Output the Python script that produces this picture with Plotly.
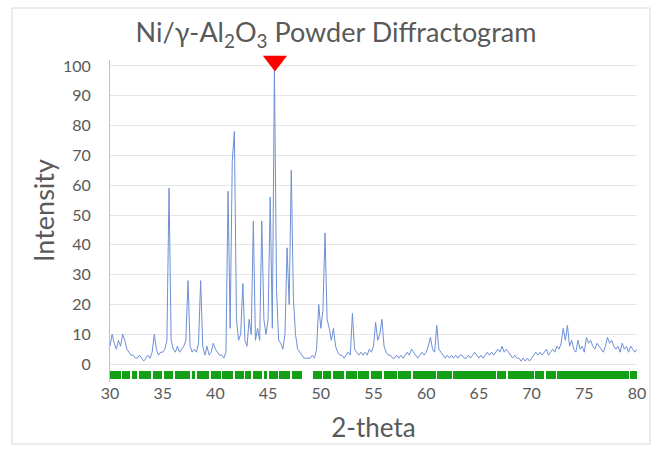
import plotly.graph_objects as go

# --- data ---
two_theta = [round(30 + 0.2 * i, 1) for i in range(251)]
intensity = [
    6, 10, 7, 5, 8,      # 30
    6, 10, 8, 5, 4,      # 31
    3, 3, 2, 2, 3,       # 32
    2, 1, 2, 3, 2,       # 33
    4, 10, 5, 3, 4,      # 34
    4, 5, 8, 59, 8,      # 35
    5, 4, 6, 4, 5,       # 36
    6, 8, 28, 6, 4,      # 37
    5, 4, 7, 28, 6,      # 38
    3, 6, 3, 4, 7,       # 39
    5, 4, 3, 3, 2,       # 40
    4, 58, 12, 68, 78,   # 41
    15, 8, 10, 27, 8,    # 42
    6, 15, 10, 48, 8,    # 43
    12, 8, 48, 15, 10,   # 44
    15, 56, 12, 100, 25, # 45
    8, 7, 5, 10, 39,     # 46
    20, 65, 22, 10, 5,   # 47
    4, 3, 2, 2, 2,       # 48
    2, 3, 2, 5, 20,      # 49
    12, 18, 44, 15, 12,  # 50
    8, 12, 6, 4, 3,      # 51
    3, 2, 3, 4, 3,       # 52
    17, 5, 4, 3, 4,      # 53
    3, 4, 3, 5, 4,       # 54
    6, 14, 8, 10, 15,    # 55
    6, 4, 3, 3, 2,       # 56
    2, 3, 2, 3, 2,       # 57
    3, 4, 3, 5, 4,       # 58
    3, 2, 3, 4, 3,       # 59
    4, 6, 9, 5, 4,       # 60
    13, 5, 4, 3, 2,      # 61
    3, 2, 3, 2, 3,       # 62
    2, 3, 3, 2, 2,       # 63
    3, 2, 3, 4, 3,       # 64
    2, 3, 2, 3, 4,       # 65
    3, 4, 3, 4, 5,       # 66
    4, 6, 4, 5, 4,       # 67
    3, 2, 3, 2, 2,       # 68
    1, 2, 1, 2, 1,       # 69
    2, 3, 4, 3, 4,       # 70
    3, 4, 5, 3, 4,       # 71
    5, 4, 6, 5, 7,       # 72
    12, 8, 13, 6, 8,     # 73
    5, 4, 8, 5, 6,       # 74
    4, 9, 7, 8, 6,       # 75
    5, 7, 6, 5, 4,       # 76
    6, 9, 7, 8, 6,       # 77
    5, 6, 4, 7, 5,       # 78
    6, 4, 6, 5, 4,       # 79
    5,                   # 80
]

# reference-pattern coverage (green band), start/end in 2-theta
ref_start = [30.0, 31.15, 32.05, 32.75, 34.1, 35.1, 36.15, 37.75, 38.3, 39.6, 40.65,
             41.85, 42.85, 43.55, 44.6, 45.1, 46.05, 47.25, 49.3, 50.25, 51.15, 52.35,
             53.55, 54.75, 55.95, 57.35, 58.75, 61.05, 62.55, 66.75, 67.75, 70.35,
             71.35, 72.45, 79.35]
ref_end = [31.0, 31.9, 32.6, 33.9, 34.9, 36.0, 37.6, 38.1, 39.4, 40.5, 41.7,
           42.7, 43.4, 44.4, 44.9, 45.9, 47.1, 48.2, 50.1, 51.0, 52.2, 53.4,
           54.6, 55.8, 57.2, 58.6, 60.9, 62.4, 66.6, 67.6, 70.2, 71.2,
           72.3, 79.2, 80.0]

peak_marker_x = [45.65]
peak_marker_y = [101.7]

y_ticks = list(range(0, 101, 10))
x_ticks = list(range(30, 81, 5))

gray = "#595959"
font_family = "Lato, 'Open Sans', sans-serif"

fig = go.Figure()

fig.add_trace(go.Bar(
    x=[(s + e) / 2 for s, e in zip(ref_start, ref_end)],
    y=[2.6] * len(ref_start),
    base=[-4.9] * len(ref_start),
    width=[e - s for s, e in zip(ref_start, ref_end)],
    marker=dict(color="#14A014", line=dict(width=0)),
    showlegend=False, hoverinfo="skip",
))

fig.add_trace(go.Scatter(
    x=two_theta, y=intensity, mode="lines",
    line=dict(color="#6E8FD6", width=1),
    showlegend=False,
))

fig.add_trace(go.Scatter(
    x=peak_marker_x, y=peak_marker_y, mode="markers",
    marker=dict(symbol="triangle-down", size=21, color="#FF0000", line=dict(width=0)),
    showlegend=False, cliponaxis=False,
))

L, R, T, B = 110, 20, 60, 67
W, H = 657, 449
pw, ph = W - L - R, H - T - B

def px_x(p):
    return (p - L) / pw

def px_y(p):
    return (H - B - p) / ph

fig.add_shape(type="rect", xref="paper", yref="paper",
              x0=px_x(12), x1=px_x(650), y0=px_y(444), y1=px_y(8),
              line=dict(color="#D9D9D9", width=1), layer="below")

fig.add_annotation(text="Intensity", xref="paper", yref="paper",
                   x=px_x(43), y=px_y(211), xanchor="center", yanchor="middle",
                   textangle=-90, showarrow=False,
                   font=dict(size=27, color=gray, family=font_family))

fig.update_layout(
    width=W, height=H,
    margin=dict(l=L, r=R, t=T, b=B),
    paper_bgcolor="white", plot_bgcolor="white",
    font=dict(family=font_family, color=gray, size=16),
    title=dict(text="Ni/γ-Al<sub>2</sub>O<sub>3</sub> Powder Diffractogram",
               x=336 / W, xanchor="center", xref="container", y=1 - 33 / H, yanchor="middle",
               font=dict(size=27, color=gray, family=font_family)),
    bargap=0,
    xaxis=dict(range=[30, 80], tickvals=x_ticks, showgrid=False, zeroline=False,
               showline=False, ticks="", tickfont=dict(size=16, color=gray),
               title=dict(text="2-theta", font=dict(size=26, color=gray), standoff=17)),
    yaxis=dict(range=[-6, 102], tickvals=y_ticks, showgrid=True, gridcolor="#E6E6E6",
               gridwidth=1, zeroline=False, showline=True, linecolor="#BFBFBF",
               ticks="", ticklabelstandoff=15, tickfont=dict(size=16, color=gray)),
)

fig.write_html("out.html", config={"displayModeBar": False},
               post_script="document.body.style.margin='0px';")
